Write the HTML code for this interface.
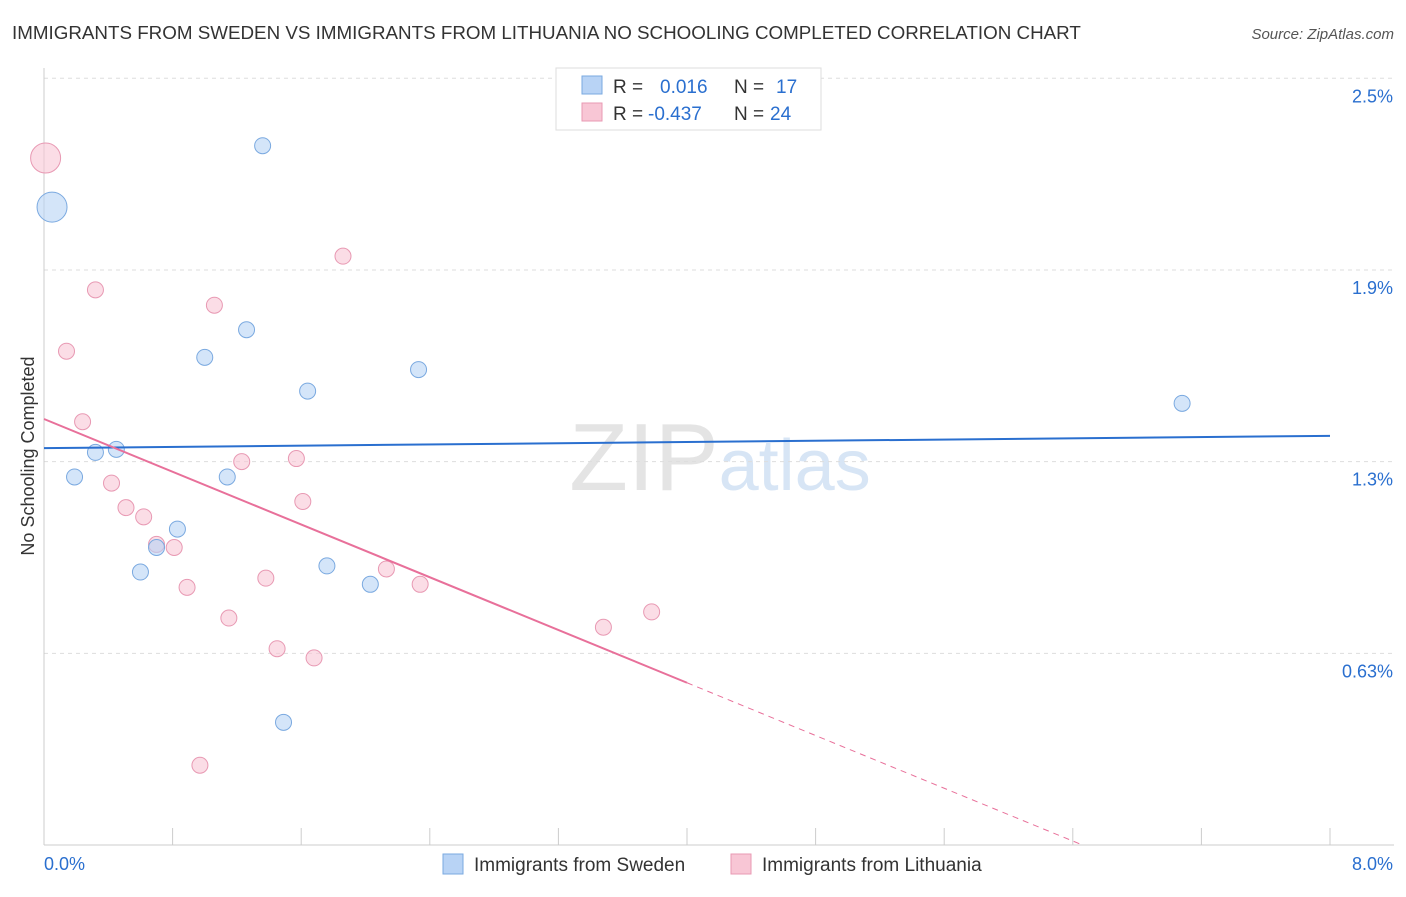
<!DOCTYPE html>
<html><head><meta charset="utf-8"><style>
body{margin:0;background:#fff;font-family:"Liberation Sans",sans-serif;}
svg text{font-family:"Liberation Sans",sans-serif;}
</style></head><body>
<svg id="chart" width="1406" height="892" viewBox="0 0 1406 892">
<text x="12" y="39" font-size="18.8" fill="#333">IMMIGRANTS FROM SWEDEN VS IMMIGRANTS FROM LITHUANIA NO SCHOOLING COMPLETED CORRELATION CHART</text>
<text x="1394" y="39" font-size="15" fill="#555" text-anchor="end" font-style="italic">Source: ZipAtlas.com</text>
<text x="720" y="490" font-size="96" fill="#e4e4e4" text-anchor="middle" font-family="Liberation Serif">ZIP<tspan fill="#d7e5f5" font-family="Liberation Sans" font-size="72">atlas</tspan></text>
<text transform="translate(34,456) rotate(-90)" font-size="18" fill="#333" text-anchor="middle">No Schooling Completed</text>
<g id="grid"></g><g id="axes"></g><g id="marks"></g>
<g>
<rect x="556" y="68" width="265" height="62" fill="#fff" stroke="#ddd"/>
<rect x="582" y="76" width="20" height="18" fill="#b8d3f5" stroke="#7aa9e0"/>
<rect x="582" y="103" width="20" height="18" fill="#f8c6d5" stroke="#e899b3"/>
<text x="613" y="93" font-size="19" fill="#333">R = <tspan fill="#2a6fcf" x="660">0.016</tspan><tspan x="734" fill="#333">N = </tspan><tspan fill="#2a6fcf" x="776">17</tspan></text>
<text x="613" y="120" font-size="19" fill="#333">R = <tspan fill="#2a6fcf" x="648">-0.437</tspan><tspan x="734" fill="#333">N = </tspan><tspan fill="#2a6fcf" x="770">24</tspan></text>
</g>
<g>
<rect x="443" y="854" width="20" height="20" fill="#b8d3f5" stroke="#7aa9e0"/>
<text x="474" y="871" font-size="19" fill="#333">Immigrants from Sweden</text>
<rect x="731" y="854" width="20" height="20" fill="#f8c6d5" stroke="#e899b3"/>
<text x="762" y="871" font-size="19" fill="#333">Immigrants from Lithuania</text>
</g>
</svg>
<script>
const swedenX=[0.05,1.36,1.26,1.0,2.33,1.64,7.08,0.32,0.45,0.19,1.14,0.83,0.70,0.60,1.76,2.03,1.49];
const swedenY=[2.08,2.28,1.68,1.59,1.55,1.48,1.44,1.28,1.29,1.20,1.20,1.03,0.97,0.89,0.91,0.85,0.40];
const swedenR=[15,8,8,8,8,8,8,8,8,8,8,8,8,8,8,8,8];
const lithX=[0.01,1.86,0.32,1.06,0.14,0.24,1.23,1.57,0.42,1.61,0.51,0.62,0.70,0.81,2.13,1.38,0.89,2.34,1.15,3.78,3.48,1.45,1.68,0.97];
const lithY=[2.24,1.92,1.81,1.76,1.61,1.38,1.25,1.26,1.18,1.12,1.10,1.07,0.98,0.97,0.90,0.87,0.84,0.85,0.74,0.76,0.71,0.64,0.61,0.26];
const lithR=[15,8,8,8,8,8,8,8,8,8,8,8,8,8,8,8,8,8,8,8,8,8,8,8];
const yTicks=[2.5,1.875,1.25,0.625];
const yTickLabels=["2.5%","1.9%","1.3%","0.63%"];
const blueLine=[1.294,0.005];
const pinkLine=[1.389,-0.215];
const NS="http://www.w3.org/2000/svg";
const sx=v=>44+v*160.75, sy=v=>845-v*306.7;
function mk(tag,attrs,parent){const e=document.createElementNS(NS,tag);for(const k in attrs)e.setAttribute(k,attrs[k]);document.getElementById(parent).appendChild(e);return e;}
yTicks.forEach((t,i)=>{
 const g=mk('line',{x1:44,x2:1394,y1:sy(t),y2:sy(t),stroke:'#ddd','stroke-dasharray':'4,4'},'grid');
 
 
 const l=mk('text',{x:1393,y:sy(t)+24,'font-size':18,fill:'#2a6fcf','text-anchor':'end'},'grid');
 l.textContent=yTickLabels[i];
 
 
});
const ax=mk('line',{x1:44,x2:1394,y1:845,y2:845,stroke:'#ccc'},'axes');


const ay=mk('line',{x1:44,x2:44,y1:68,y2:845,stroke:'#ccc'},'axes');


for(let i=0;i<=10;i++){const t=mk('line',{x1:sx(i*0.8),x2:sx(i*0.8),y1:828,y2:845,stroke:'#ccc'},'axes');
 
 }
[["0.0%",44,'start'],["8.0%",1393,'end']].forEach(a=>{const t=mk('text',{x:a[1],y:870,'font-size':18,fill:'#2a6fcf','text-anchor':a[2]},'axes');t.textContent=a[0];
 
 });
function dot(x,y,r,f,s,name){const c=mk('circle',{cx:sx(x),cy:sy(y),r:r,fill:f,stroke:s,'stroke-width':1,'fill-opacity':0.6},'marks');
 
 }
lithX.forEach((x,i)=>dot(x,lithY[i],lithR[i],'#f8c6d5','#e899b3','lithuania-point'));
swedenX.forEach((x,i)=>dot(x,swedenY[i],swedenR[i],'#b8d3f5','#7aa9e0','sweden-point'));
const bl=mk('line',{x1:sx(0),y1:sy(blueLine[0]),x2:sx(8),y2:sy(blueLine[0]+8*blueLine[1]),stroke:'#2a6fcf','stroke-width':2},'marks');


const pl=mk('line',{x1:sx(0),y1:sy(pinkLine[0]),x2:sx(4),y2:sy(pinkLine[0]+4*pinkLine[1]),stroke:'#e8709a','stroke-width':2},'marks');


const xz=-pinkLine[0]/pinkLine[1];
const pd=mk('line',{x1:sx(4),y1:sy(pinkLine[0]+4*pinkLine[1]),x2:sx(xz),y2:sy(0),stroke:'#e8709a','stroke-width':1,'stroke-dasharray':'6,5'},'marks');


</script>
</body></html>
